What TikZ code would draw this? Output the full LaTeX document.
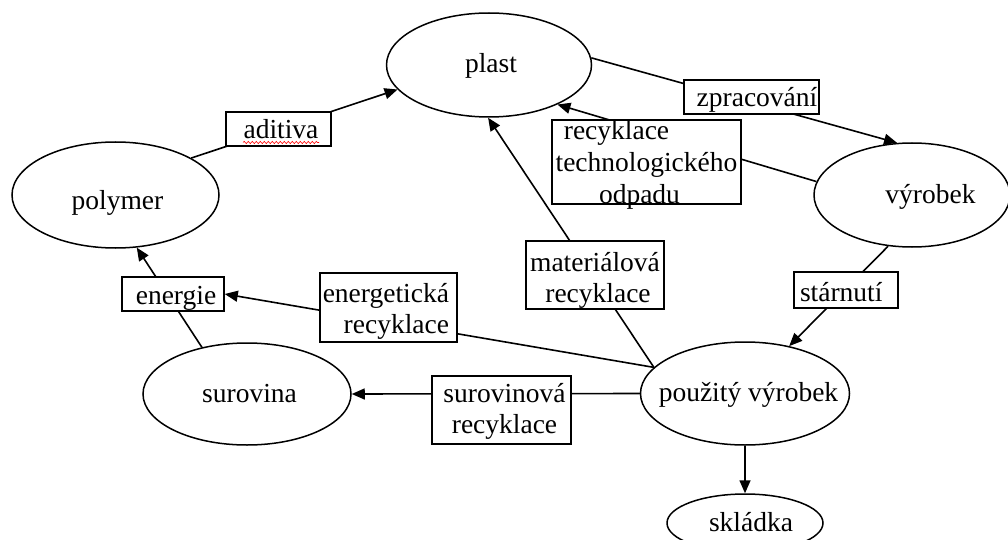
\documentclass[tikz,border=0pt]{standalone}
\usepackage{fontspec}
\setmainfont{Liberation Serif}
\usetikzlibrary{shapes.geometric,arrows.meta,decorations.pathmorphing}
\begin{document}
\begin{tikzpicture}[x=1pt,y=-1pt,
  font=\fontsize{27.5pt}{31pt}\selectfont,
  ell/.style={ellipse,draw,line width=1.5pt,fill=white,inner sep=0pt,text height=20pt,text depth=4pt},
  lbl/.style={draw,line width=1.6pt,fill=white,inner sep=0pt},
  conn/.style={line width=1.6pt},
  arr/.style={conn,-{Triangle[length=13pt,width=11pt]}},
  spell/.style={red,line width=0.6pt,decorate,decoration={snake,amplitude=1.1pt,segment length=4pt}}]
\useasboundingbox (0,0) rectangle (1008,540);

% ellipses
\node[ell,minimum width=205pt,minimum height=104pt] (plast) at (489,65) {\makebox[0pt]{\kern4pt plast}};
\node[ell,minimum width=207pt,minimum height=106pt] (polymer) at (115.5,195) {\makebox[0pt]{\kern4pt\raisebox{-6pt}{polymer}}};
\node[ell,minimum width=196pt,minimum height=104pt] (vyrobek) at (912,195) {\makebox[0pt]{\kern37pt výrobek}};
\node[ell,minimum width=209pt,minimum height=103pt] (pouzity) at (745,393.5) {\makebox[0pt]{\kern7pt použitý výrobek}};
\node[ell,minimum width=208pt,minimum height=102pt] (surovina) at (247,394) {\makebox[0pt]{\kern5pt surovina}};
\node[ell,minimum width=156pt,minimum height=58pt] (skladka) at (745,523) {\makebox[0pt]{\kern12pt skládka}};

% connectors
\draw[arr] (surovina.134) -- (polymer.292);
\draw[arr] (polymer.26) -- (plast.195);
\draw[arr] (plast.4) -- (vyrobek.106);
\draw[arr] (vyrobek.172) -- (plast.330);
\draw[arr] (vyrobek.245) -- (pouzity.47);
\draw[arr] (pouzity.164) -- (plast.269);
\draw[arr] (pouzity.west) -- (surovina.east);
\draw[arr] (pouzity.south) -- (skladka.north);

\node[lbl] (energie) at (173,294) {\parbox[c][34pt][t]{102pt}{\centering\rule{0pt}{27pt}\kern6pt energie}};
\draw[arr] (pouzity.164) -- (energie.east);

% label boxes
\node[lbl] (aditiva) at (278.5,129) {\parbox[c][34pt][t]{105pt}{\centering\rule{0pt}{27pt}\kern5pt aditiva}};
\draw[spell] ([shift={(-35.5,13.5)}]aditiva.center) -- ([shift={(40.5,13.5)}]aditiva.center);
\node[lbl] (zprac) at (751.5,97) {\parbox[c][34pt][t]{135pt}{\centering\rule{0pt}{27pt}\kern11pt zpracování}};
\node[lbl] (recyk) at (646.5,162) {\parbox[c][84pt][t]{189pt}{\baselineskip=32pt\centering\rule{0pt}{18pt}recyklace\kern60pt\\technologického\\odpadu\kern14pt}};
\node[lbl] (starn) at (846,290) {\parbox[c][36pt][t]{104pt}{\raggedright\rule{0pt}{29pt}\kern6pt stárnutí}};
\node[lbl] (energrec) at (388.5,307.5) {\parbox[c][69pt][t]{137pt}{\raggedleft\rule{0pt}{29pt}energetická\kern8pt\\recyklace\kern8pt}};
\node[lbl] (matrec) at (595,275) {\parbox[c][68pt][t]{138pt}{\centering\rule{0pt}{30pt}materiálová\\\hspace*{6pt}recyklace}};
\node[lbl] (surrec) at (501.5,410) {\parbox[c][68pt][t]{139pt}{\centering\rule{0pt}{26pt}\hspace*{6pt}surovinová\\\hspace*{6pt}recyklace}};
\end{tikzpicture}
\end{document}
